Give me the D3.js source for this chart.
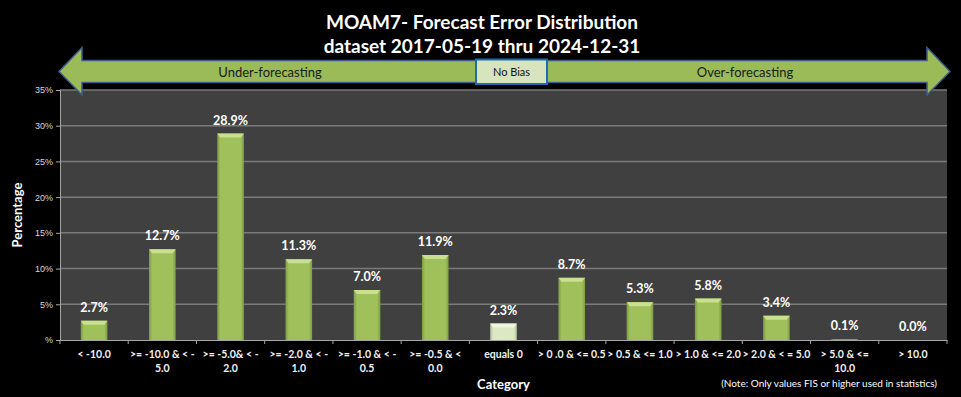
<!DOCTYPE html>
<html>
<head>
<meta charset="utf-8">
<script src="https://cdn.jsdelivr.net/npm/d3@7"></script>
<style>
  body { margin: 0; background: #000; }
  svg { display: block; font-family: Lato, "Open Sans", sans-serif; }
</style>
</head>
<body>
<div id="container"><svg></svg></div>
<script>
let width = 961;
let height = 397;

// chart data
let categories = ["< -10.0", ">= -10.0 & < -\n5.0", ">= -5.0& < -\n2.0", ">= -2.0 & < -\n1.0",
    ">= -1.0 & < -\n0.5", ">= -0.5 & <\n0.0", "equals 0", "> 0 .0 & <= 0.5", "> 0.5 & <= 1.0",
    "> 1.0 & <= 2.0", "> 2.0 & < = 5.0", "> 5.0 & <=\n10.0", "> 10.0"];
let values = [2.7, 12.7, 28.9, 11.3, 7.0, 11.9, 2.3, 8.7, 5.3, 5.8, 3.4, 0.1, 0.0];
let yTicks = [0, 5, 10, 15, 20, 25, 30, 35];
let titleLines = ["MOAM7- Forecast Error Distribution", "dataset 2017-05-19  thru 2024-12-31"];

let margin = {left: 60, right: 14, top: 90, bottom: 57};

let svg = d3.select('#container').select('svg')
    .attr('width', width)
    .attr('height', height);

svg.append("rect").attr("width", width).attr("height", height).attr("fill", "#000");

let x = d3.scaleBand()
    .domain(categories)
    .range([margin.left, width - margin.right])
    .paddingInner(0.61)
    .paddingOuter(0.305);

let y = d3.scaleLinear()
    .domain([0, 35])
    .range([height - margin.bottom, margin.top]);

// gradients for the bevelled bars
let defs = svg.append("defs");
function barGrad(id, dark, mid) {
    let g = defs.append("linearGradient").attr("id", id)
        .attr("x1", "0%").attr("x2", "100%").attr("y1", "0%").attr("y2", "0%");
    g.append("stop").attr("offset", "0%").attr("stop-color", dark);
    g.append("stop").attr("offset", "12%").attr("stop-color", mid);
    g.append("stop").attr("offset", "88%").attr("stop-color", mid);
    g.append("stop").attr("offset", "100%").attr("stop-color", dark);
}
barGrad("gGreen", "#7f9c45", "#9fc05a");
barGrad("gLight", "#b5c49a", "#dbe8c3");

// plot area
svg.append("rect")
    .attr("x", margin.left).attr("y", margin.top)
    .attr("width", width - margin.left - margin.right)
    .attr("height", height - margin.top - margin.bottom)
    .attr("fill", "#404040");

// gridlines
svg.append("g").selectAll("line")
    .data(yTicks.filter(d => d > 0))
    .join("line")
    .attr("x1", margin.left).attr("x2", width - margin.right)
    .attr("y1", d => y(d)).attr("y2", d => y(d))
    .attr("stroke", "#7a7a7a").attr("stroke-width", 1.5);

// y axis
let yAxis = svg.append("g")
    .attr("transform", `translate(${margin.left},0)`)
    .call(d3.axisLeft(y).tickValues(yTicks).tickSize(4).tickFormat(d => d === 0 ? "%" : d + "%"));
yAxis.select(".domain").attr("stroke", "#a6a6a6");
yAxis.selectAll(".tick line").attr("stroke", "#a6a6a6");
yAxis.selectAll("text").attr("fill", "#d9d9d9").style("font-size", "9px").attr("x", -7);

// x axis
let xAxis = svg.append("g")
    .attr("transform", `translate(0,${height - margin.bottom})`)
    .call(d3.axisBottom(x).tickSize(0).tickFormat(""));
xAxis.select(".domain").attr("stroke", "#a6a6a6");
let step = x.step();
xAxis.append("g").selectAll("line")
    .data(d3.range(categories.length + 1))
    .join("line")
    .attr("x1", i => margin.left + i * step).attr("x2", i => margin.left + i * step)
    .attr("y1", 0).attr("y2", 4)
    .attr("stroke", "#a6a6a6");

// category labels
let catText = svg.append("g").selectAll("text")
    .data(categories)
    .join("text")
    .attr("x", d => x(d) + x.bandwidth() / 2)
    .attr("y", height - margin.bottom + 18)
    .attr("text-anchor", "middle")
    .attr("fill", "#f2f2f2")
    .style("font-size", "10.5px")
    .style("font-weight", "bold");
catText.each(function(d) {
    let t = d3.select(this);
    d.split("\n").forEach((line, i) => {
        t.append("tspan").attr("x", x(d) + x.bandwidth() / 2).attr("dy", i === 0 ? 0 : 14).text(line);
    });
});

// bars
let bars = svg.append("g").selectAll("g")
    .data(values.map((v, i) => ({cat: categories[i], v: v})))
    .join("g");

bars.append("rect")
    .attr("x", d => x(d.cat))
    .attr("y", d => y(d.v))
    .attr("width", x.bandwidth())
    .attr("height", d => y(0) - y(d.v))
    .attr("fill", d => d.cat === "equals 0" ? "url(#gLight)" : "url(#gGreen)");

// top bevel
bars.filter(d => d.v > 0.5).append("path")
    .attr("d", d => {
        let x0 = x(d.cat), x1 = x0 + x.bandwidth(), y0 = y(d.v);
        return `M${x0},${y0}L${x1},${y0}L${x1 - 3},${y0 + 4}L${x0 + 3},${y0 + 4}Z`;
    })
    .attr("fill", d => d.cat === "equals 0" ? "#eef5e0" : "#c9e08f");

// value labels
svg.append("g").selectAll("text")
    .data(values.map((v, i) => ({cat: categories[i], v: v})))
    .join("text")
    .attr("x", d => x(d.cat) + x.bandwidth() / 2)
    .attr("y", d => y(d.v) - 9)
    .attr("text-anchor", "middle")
    .attr("fill", "#ffffff")
    .style("font-size", "12.5px")
    .style("font-weight", "bold")
    .text(d => d.v.toFixed(1) + "%");

// titles
svg.append("g").selectAll("text")
    .data(titleLines)
    .join("text")
    .attr("x", 482)
    .attr("y", (d, i) => 29 + i * 24)
    .attr("text-anchor", "middle")
    .attr("fill", "#ffffff")
    .style("font-size", "19px")
    .style("font-weight", "bold")
    .text(d => d);

svg.append("text")
    .attr("transform", `translate(22,${(y(0) + y(35)) / 2}) rotate(-90)`)
    .attr("text-anchor", "middle")
    .attr("fill", "#ffffff")
    .style("font-size", "13px")
    .style("font-weight", "bold")
    .text("Percentage");

svg.append("text")
    .attr("x", (margin.left + width - margin.right) / 2)
    .attr("y", 389)
    .attr("text-anchor", "middle")
    .attr("fill", "#ffffff")
    .style("font-size", "13px")
    .style("font-weight", "bold")
    .text("Category");

svg.append("text")
    .attr("x", 937)
    .attr("y", 387)
    .attr("text-anchor", "end")
    .attr("fill", "#ffffff")
    .style("font-size", "10px")
    .text("(Note: Only values FIS or higher used in statistics)");

// double arrow across the top
let ax0 = 59, ax1 = 950, ah = 23, ay = 71.5;
let arrow = [[ax0, ay], [ax0 + ah, 47.5], [ax0 + ah, 60.5], [ax1 - ah, 60.5], [ax1 - ah, 47.5],
    [ax1, ay], [ax1 - ah, 95], [ax1 - ah, 82.5], [ax0 + ah, 82.5], [ax0 + ah, 95]];
svg.append("path")
    .attr("d", d3.line()(arrow) + "Z")
    .attr("fill", "#9bbb59")
    .attr("stroke", "#3b5e8c")
    .attr("stroke-width", 1.5);

svg.append("rect")
    .attr("x", 476).attr("y", 59.5)
    .attr("width", 71).attr("height", 24.5)
    .attr("fill", "#d7e4bd")
    .attr("stroke", "#1f6bb0")
    .attr("stroke-width", 2);

svg.append("text")
    .attr("x", 511.5).attr("y", 76)
    .attr("text-anchor", "middle")
    .attr("fill", "#111")
    .style("font-size", "11px")
    .text("No  Bias");

svg.append("text")
    .attr("x", 270).attr("y", 77)
    .attr("text-anchor", "middle")
    .attr("fill", "#1a1a1a")
    .style("font-size", "13px")
    .text("Under-forecasting");

svg.append("text")
    .attr("x", 745).attr("y", 77)
    .attr("text-anchor", "middle")
    .attr("fill", "#1a1a1a")
    .style("font-size", "13px")
    .text("Over-forecasting");
</script>
</body>
</html>
